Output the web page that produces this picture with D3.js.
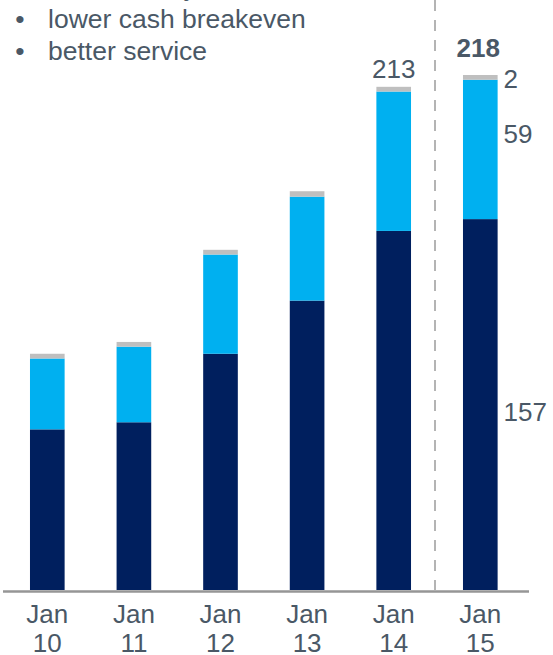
<!DOCTYPE html>
<html>
<head>
<meta charset="utf-8">
<script src="https://cdn.jsdelivr.net/npm/d3@7/dist/d3.min.js"></script>
<style>
  html, body { margin: 0; padding: 0; background: #fff; }
  svg { display: block; }
  text { font-family: "Liberation Sans", Arial, Helvetica, sans-serif; }
</style>
</head>
<body>
<div id="chart"></div>
<script>
// ---- data ----
const categories = ["Jan 10", "Jan 11", "Jan 12", "Jan 13", "Jan 14", "Jan 15"];
const darkValues  = [68, 71, 100, 122.5, 152, 157];
const lightValues = [30, 32, 42, 44, 59, 59];
const greyValues  = [2, 2, 2, 2.3, 2, 2];
const totalLabels = ["", "", "", "", "213", "218"];
const segmentLabels = ["157", "59", "2"]; // for last bar: dark, light, grey
const bullets = ["less volatility", "lower cash breakeven", "better service"];

// ---- layout ----
const W = 553, H = 655;
const baseY = 590;
const textColor = "#4a5866";
const colors = ["#001f5e", "#00b0f0", "#bfbfbf"];

const svg = d3.select("#chart").append("svg").attr("width", W).attr("height", H);

const x = d3.scaleBand().domain(categories).range([4, 523.6]).paddingInner(0.6).paddingOuter(0.3);
const y = d3.scaleLinear().domain([0, 218]).range([baseY, 75]);

const rows = categories.map((c, i) => ({ cat: c, dark: darkValues[i], light: lightValues[i], grey: greyValues[i] }));
const stack = d3.stack().keys(["dark", "light", "grey"]);
const series = stack(rows);

// dashed divider between Jan 14 and Jan 15
const divX = x(categories[5]) - (x.step() - x.bandwidth()) / 2 - 2;
svg.append("line")
  .attr("x1", divX).attr("x2", divX)
  .attr("y1", 0).attr("y2", baseY)
  .attr("stroke", "#b4b4b4").attr("stroke-width", 2)
  .attr("stroke-dasharray", "11,9");

// bars
svg.selectAll("g.series").data(series).join("g")
  .attr("class", "series")
  .attr("fill", (d, i) => colors[i])
  .selectAll("rect").data(d => d).join("rect")
  .attr("x", d => x(d.data.cat))
  .attr("width", x.bandwidth())
  .attr("y", d => y(d[1]))
  .attr("height", d => y(d[0]) - y(d[1]));

// baseline axis
const xAxis = d3.axisBottom(x).tickSize(0).tickFormat("");
const axG = svg.append("g").attr("transform", `translate(0,${baseY + 1.5})`).call(xAxis);
axG.select(".domain").remove();
svg.append("line")
  .attr("x1", 3).attr("x2", 529)
  .attr("y1", baseY + 1.5).attr("y2", baseY + 1.5)
  .attr("stroke", "#969696").attr("stroke-width", 2.5);

// x labels (two lines)
const xl = svg.append("g");
categories.forEach(c => {
  const parts = c.split(" ");
  const cx = x(c) + x.bandwidth() / 2;
  xl.append("text").attr("x", cx).attr("y", 623).attr("text-anchor", "middle")
    .attr("font-size", 26).attr("fill", textColor).text(parts[0]);
  xl.append("text").attr("x", cx).attr("y", 652).attr("text-anchor", "middle")
    .attr("font-size", 26).attr("fill", textColor).text(parts[1]);
});

// total labels
rows.forEach((r, i) => {
  if (!totalLabels[i]) return;
  const total = r.dark + r.light + r.grey;
  const last = i === rows.length - 1;
  svg.append("text")
    .attr("x", x(r.cat) + x.bandwidth() / 2 - (last ? 2 : 0))
    .attr("y", y(total) - (last ? 18 : 9))
    .attr("text-anchor", "middle")
    .attr("font-size", 26)
    .attr("font-weight", last ? "bold" : "normal")
    .attr("fill", textColor)
    .text(totalLabels[i]);
});

// segment labels for last bar
const lastBar = series.map(s => s[s.length - 1]);
const labelOffsets = [16.5, -6.5, 10.5];
lastBar.forEach((seg, k) => {
  const mid = (y(seg[0]) + y(seg[1])) / 2;
  svg.append("text")
    .attr("x", x(categories[5]) + x.bandwidth() + 6)
    .attr("y", mid + labelOffsets[k])
    .attr("font-size", 26)
    .attr("fill", textColor)
    .text(segmentLabels[k]);
});

// bullet text
bullets.forEach((b, i) => {
  const by = -4 + i * 32;
  svg.append("text").attr("x", 20).attr("y", by).attr("text-anchor", "middle")
    .attr("font-size", 26.5).attr("fill", textColor).text("•");
  svg.append("text").attr("x", 48).attr("y", by)
    .attr("font-size", 26.5).attr("fill", textColor).text(b);
});
</script>
</body>
</html>
